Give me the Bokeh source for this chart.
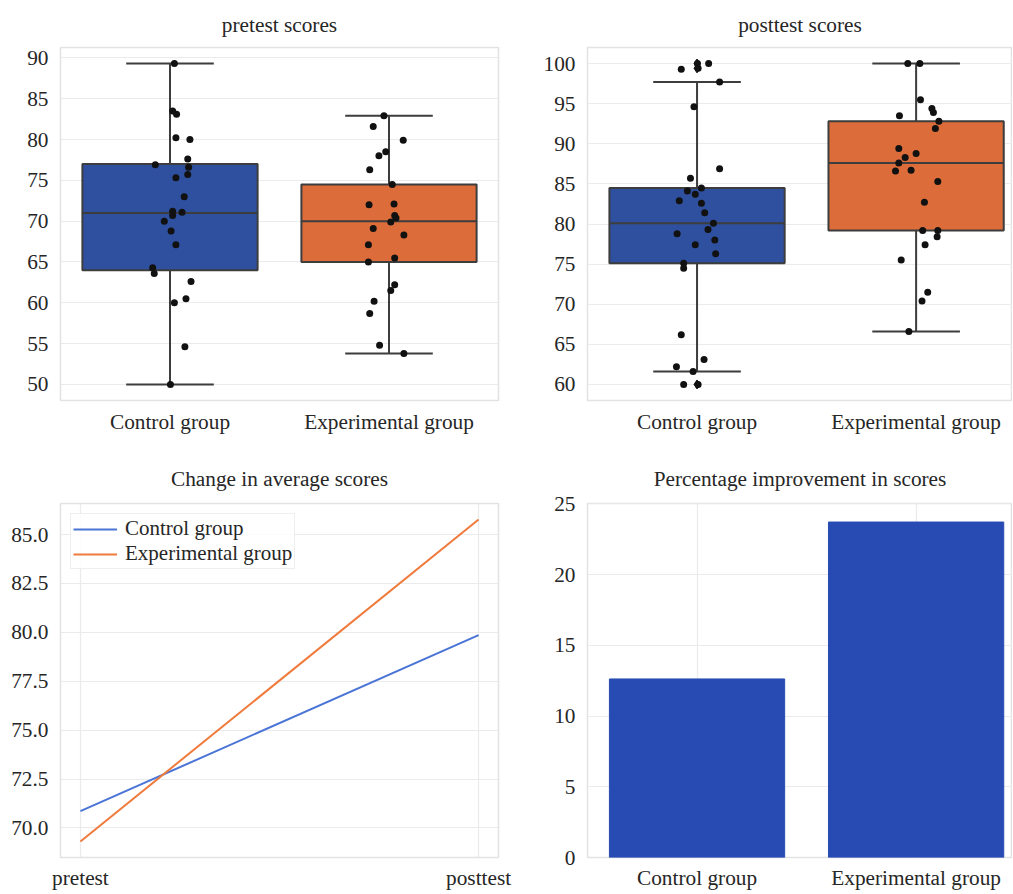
from bokeh.plotting import figure
from bokeh.layouts import gridplot
from bokeh.models import FixedTicker, PrintfTickFormatter, Range1d
from bokeh.embed import file_html
from bokeh.resources import INLINE

# ---------------- data ----------------
groups = ["Control group", "Experimental group"]
stages = ["pretest", "posttest"]

pre_ctrl = [89.3, 83.5, 83.1, 80.2, 80.0, 76.9, 77.6, 76.6, 75.7, 75.3, 73.0, 71.1,
            71.2, 70.7, 70.0, 68.8, 67.1, 64.3, 63.6, 62.6, 60.5, 60.0, 54.6, 50.0]
pre_ctrl_jit = [0.020, 0.012, 0.030, 0.027, 0.091, -0.067, 0.081, 0.085, 0.081, 0.027, 0.065, 0.055,
                0.012, 0.012, -0.026, 0.005, 0.027, -0.079, -0.072, 0.096, 0.073, 0.020, 0.068, 0.002]
pre_exp = [82.9, 81.6, 79.9, 78.5, 78.0, 76.3, 74.5, 72.0, 72.1, 70.7, 70.4, 69.9,
           69.1, 68.3, 67.1, 65.0, 65.5, 62.2, 61.5, 60.2, 58.7, 54.8, 53.8]
pre_exp_jit = [-0.023, -0.072, 0.065, -0.015, -0.046, -0.088, 0.015, -0.091, 0.023, 0.026, 0.032, 0.008,
               -0.072, 0.068, -0.094, -0.094, 0.026, 0.026, 0.008, -0.068, -0.088, -0.043, 0.068]
post_ctrl = [99.3, 100.0, 99.4, 100.0, 97.7, 94.6, 86.9, 85.7, 84.5, 84.1, 83.7, 82.9, 82.6, 81.4,
             80.1, 79.3, 78.8, 78.0, 77.4, 76.3, 75.1, 74.5, 66.2, 63.1, 62.2, 61.6, 60.0, 60.0]
post_ctrl_jit = [-0.072, 0.002, 0.005, 0.053, 0.103, -0.014, 0.103, -0.030, 0.020, -0.044, -0.008, -0.081,
                 0.020, 0.035, 0.075, 0.050, -0.091, 0.081, -0.008, 0.085, -0.061, -0.061, -0.072, 0.032,
                 -0.094, -0.018, -0.061, 0.005]
post_exp = [100.0, 100.0, 95.5, 94.4, 93.9, 93.5, 92.8, 91.9, 89.4, 88.8, 88.3, 87.6, 86.6, 86.7,
            85.3, 82.7, 79.2, 79.2, 78.4, 77.4, 75.5, 71.5, 70.4, 66.6]
post_exp_jit = [-0.038, 0.017, 0.020, 0.072, 0.079, -0.076, 0.104, 0.088, -0.079, 0.000, -0.050, -0.079,
                -0.094, -0.023, 0.099, 0.038, 0.030, 0.099, 0.096, 0.041, -0.068, 0.053, 0.027, -0.033]

pre_q1 = [64.0, 65.0]
pre_med = [71.0, 70.0]
pre_q3 = [77.0, 74.5]
pre_lo = [50.0, 53.8]
pre_hi = [89.3, 82.9]

post_q1 = [75.1, 79.2]
post_med = [80.1, 87.6]
post_q3 = [84.5, 92.8]
post_lo = [61.6, 66.6]
post_hi = [97.7, 100.0]
post_fliers_ctrl = [100.0, 99.4, 60.0]
post_fliers_exp = []

mean_ctrl = [70.86, 79.86]
mean_exp = [69.31, 85.77]

improvement = [12.62, 23.71]

pre_ticks = [50, 55, 60, 65, 70, 75, 80, 85, 90]
post_ticks = [60, 65, 70, 75, 80, 85, 90, 95, 100]
mean_ticks = [70.0, 72.5, 75.0, 77.5, 80.0, 82.5, 85.0]
imp_ticks = [0, 5, 10, 15, 20, 25]

# ---------------- style ----------------
FONT = "Liberation Serif"
TXT = "#262626"
BOX_COLORS = ["#2f4f9f", "#dc6d3a"]
EDGE = "#3d3d3d"
LINE_BLUE = "#4a74d6"
LINE_ORANGE = "#ef7a3c"
BAR_BLUE = "#284bb3"


def style(p, standoff_x=9, title_standoff=21):
    p.title.text_font = FONT
    p.title.text_font_size = "21.3px"
    p.title.text_font_style = "normal"
    p.title.text_color = TXT
    p.title.align = "center"
    p.title.standoff = title_standoff
    p.outline_line_color = "#e2e2e2"
    p.outline_line_width = 1.5
    for ax in p.axis:
        ax.axis_line_color = None
        ax.major_tick_line_color = None
        ax.minor_tick_line_color = None
        ax.major_tick_out = 0
        ax.major_tick_in = 0
        ax.minor_tick_out = 0
        ax.minor_tick_in = 0
        ax.major_label_text_font = FONT
        ax.major_label_text_font_size = "21.3px"
        ax.major_label_text_color = TXT
    p.yaxis.major_label_standoff = 12
    p.xaxis.major_label_standoff = standoff_x
    p.grid.grid_line_color = "#ebebeb"
    p.grid.grid_line_width = 1.2


def boxplot(title, width, xend, ylo, yhi, ticks, q1, med, q3, lo, hi, pts, jits, fliers, mbl, mbr):
    p = figure(width=width, height=448, title=title,
               x_range=Range1d(-0.5, xend), y_range=Range1d(ylo, yhi),
               output_backend="svg", toolbar_location=None,
               min_border_left=mbl, min_border_right=mbr, min_border_top=47, min_border_bottom=48)
    xs = list(range(len(groups)))
    # whiskers
    p.segment(x0=xs, y0=q3, x1=xs, y1=hi, line_color=EDGE, line_width=2)
    p.segment(x0=xs, y0=q1, x1=xs, y1=lo, line_color=EDGE, line_width=2)
    p.segment(x0=[x - 0.2 for x in xs], y0=hi, x1=[x + 0.2 for x in xs], y1=hi, line_color=EDGE, line_width=2)
    p.segment(x0=[x - 0.2 for x in xs], y0=lo, x1=[x + 0.2 for x in xs], y1=lo, line_color=EDGE, line_width=2)
    # boxes
    p.vbar(x=xs, bottom=q1, top=q3, width=0.8, fill_color=BOX_COLORS, line_color=EDGE, line_width=2)
    p.segment(x0=[x - 0.4 for x in xs], y0=med, x1=[x + 0.4 for x in xs], y1=med, line_color=EDGE, line_width=2)
    # fliers
    for i, fl in enumerate(fliers):
        if fl:
            p.scatter(x=[i] * len(fl), y=fl, marker="diamond", size=9, fill_color="#111111", line_color="#111111")
    # strip points
    for i, (vals, jit) in enumerate(zip(pts, jits)):
        p.scatter(x=[i + j for j in jit], y=vals, size=7, fill_color="#111111", line_color=None)
    p.xaxis.ticker = FixedTicker(ticks=xs)
    p.xaxis.major_label_overrides = {i: g for i, g in enumerate(groups)}
    p.yaxis.ticker = FixedTicker(ticks=ticks)
    style(p, title_standoff=21)
    p.xgrid.visible = False
    return p


p1 = boxplot("pretest scores", 535, 1.5, 48.03, 91.27, pre_ticks,
             pre_q1, pre_med, pre_q3, pre_lo, pre_hi,
             [pre_ctrl, pre_exp], [pre_ctrl_jit, pre_exp_jit], [[], []], 60, 37)
p2 = boxplot("posttest scores", 477, 1.44, 58.0, 102.0, post_ticks,
             post_q1, post_med, post_q3, post_lo, post_hi,
             [post_ctrl, post_exp], [post_ctrl_jit, post_exp_jit], [post_fliers_ctrl, post_fliers_exp], 52, 0)

# line chart
p3 = figure(width=535, height=445, title="Change in average scores",
            x_range=Range1d(-0.05, 1.05), y_range=Range1d(68.49, 86.59),
            output_backend="svg", toolbar_location=None,
            min_border_left=60, min_border_right=36, min_border_top=55, min_border_bottom=36)
sx = list(range(len(stages)))
p3.line(x=sx, y=mean_ctrl, line_color=LINE_BLUE, line_width=2, legend_label=groups[0])
p3.line(x=sx, y=mean_exp, line_color=LINE_ORANGE, line_width=2, legend_label=groups[1])
p3.xaxis.ticker = FixedTicker(ticks=sx)
p3.xaxis.major_label_overrides = {i: s for i, s in enumerate(stages)}
p3.yaxis.ticker = FixedTicker(ticks=mean_ticks)
p3.yaxis.formatter = PrintfTickFormatter(format="%.1f")
style(p3, standoff_x=8, title_standoff=26)
lg = p3.legend[0]
lg.location = "top_left"
lg.margin = 10
lg.padding = 2
lg.spacing = 0
lg.label_text_font = FONT
lg.label_text_font_size = "21px"
lg.label_text_color = TXT
lg.label_height = 18
lg.glyph_height = 18
lg.glyph_width = 44
lg.label_standoff = 8
lg.border_line_color = "#dddddd"
lg.background_fill_alpha = 0.85

# bar chart
p4 = figure(width=477, height=445, title="Percentage improvement in scores",
            x_range=Range1d(-0.5, 1.44), y_range=Range1d(0, 25.02),
            output_backend="svg", toolbar_location=None,
            min_border_left=52, min_border_right=0, min_border_top=55, min_border_bottom=36)
bx = list(range(len(groups)))
p4.vbar(x=bx, top=improvement, width=0.8, fill_color=BAR_BLUE, line_color=BAR_BLUE)
p4.xaxis.ticker = FixedTicker(ticks=bx)
p4.xaxis.major_label_overrides = {i: g for i, g in enumerate(groups)}
p4.yaxis.ticker = FixedTicker(ticks=imp_ticks)
style(p4, standoff_x=8, title_standoff=26)

grid = gridplot([[p1, p2], [p3, p4]], toolbar_location=None)

open("out.html", "w").write(file_html(grid, INLINE))
